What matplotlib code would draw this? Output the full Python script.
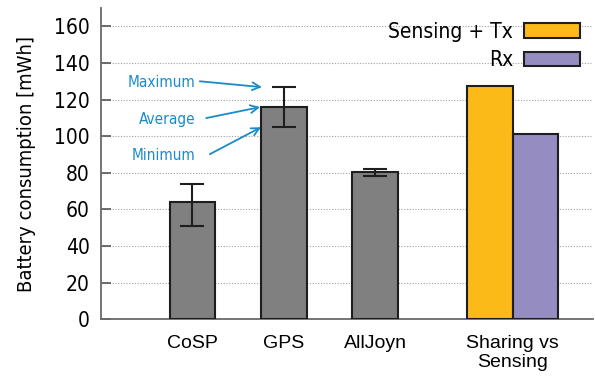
import matplotlib
matplotlib.use('Agg')
import matplotlib.pyplot as plt

# data
categories = ['CoSP', 'GPS', 'AllJoyn']
avg_values = [64, 116, 80.4]
min_values = [51, 105, 78.5]
max_values = [74, 127, 82]

group_label = 'Sharing vs\nSensing'
series_names = ['Sensing + Tx', 'Rx']
series_values = [127.5, 101]
series_colors = ['#FBBA17', '#958CC1']

yticks = [0, 20, 40, 60, 80, 100, 120, 140, 160]

plt.rcParams['font.family'] = ['DejaVu Sans']
plt.rcParams['font.stretch'] = 'condensed'

fig = plt.figure(figsize=(5.95, 3.76), dpi=100)
ax = fig.add_axes([101 / 595, 1 - 319.4 / 376, (593 - 101) / 595, (319.4 - 8) / 376])

xs = [1, 2, 3]
width = 0.5
edge = '#1e1e1e'

ax.bar(xs, avg_values, width, color='#808080', edgecolor=edge, linewidth=1.5, zorder=3)
err_lo = [a - m for a, m in zip(avg_values, min_values)]
err_hi = [m - a for a, m in zip(avg_values, max_values)]
ax.errorbar(xs, avg_values, yerr=[err_lo, err_hi], fmt='none', ecolor='#1e1e1e',
            elinewidth=1.5, capsize=8.6, capthick=1.5, zorder=4)

gx = 4.5
for i, (name, val, col) in enumerate(zip(series_names, series_values, series_colors)):
    ax.bar(gx - width / 2 + i * width, val, width, color=col, edgecolor=edge,
           linewidth=1.5, zorder=3, label=name)

# annotations
blue = '#1A8BC8'
notes = [('Maximum', (0.667, 129.5), (1.08, 130), (1.76, 126.8)),
         ('Average', (0.72, 109.3), (1.15, 109.9), (1.74, 115.9)),
         ('Minimum', (0.678, 89.7), (1.19, 90.2), (1.75, 104.9))]
for txt, tpos, start, end in notes:
    ax.text(tpos[0], tpos[1], txt, color=blue, fontsize=11, ha='center', va='center')
    ax.annotate('', xy=end, xytext=start,
                arrowprops=dict(arrowstyle='->', color=blue, lw=1.3,
                                mutation_scale=14, shrinkA=0, shrinkB=0))

ax.set_xlim(0, 5.38)
ax.set_ylim(0, 170)
ax.set_yticks(yticks)
ax.set_xticks(xs + [gx])
ax.set_xticklabels(categories + [group_label], family='Liberation Sans', fontsize=14,
                   linespacing=1.2, stretch='normal')
ax.tick_params(axis='x', length=0, pad=11)
ax.tick_params(axis='y', direction='in', length=7, width=1.2, color='#555555',
               labelsize=15, pad=8)

ax.grid(axis='y', linestyle=(0, (1, 1.5)), color='#a0a0a0', linewidth=0.8, zorder=0)
for s in ['top', 'right']:
    ax.spines[s].set_visible(False)
for s in ['left', 'bottom']:
    ax.spines[s].set_color('#6a6a6a')
    ax.spines[s].set_linewidth(1.3)

ax.set_ylabel('Battery consumption [mWh]', fontsize=14.5, labelpad=13)

ax.legend(loc='upper right', bbox_to_anchor=(580 / 595, 1 - 22 / 376),
          bbox_transform=fig.transFigure, frameon=False, markerfirst=False,
          fontsize=15, handlelength=2.7, handleheight=0.7, labelspacing=0.4,
          handletextpad=0.5, borderpad=0, borderaxespad=0)

fig.savefig('out.png', dpi=100)
